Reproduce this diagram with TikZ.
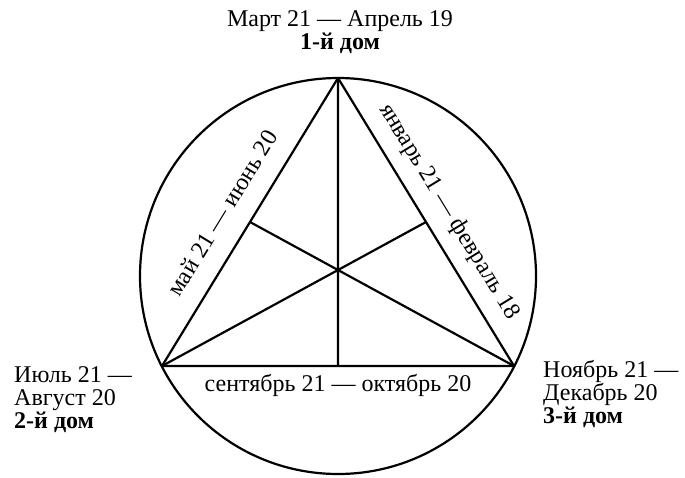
\documentclass[tikz,border=0pt]{standalone}
\usepackage{fontspec}
\setmainfont{Liberation Serif}
\usetikzlibrary{positioning}

\begin{document}
\begin{tikzpicture}[x=1pt,y=-1pt,
    edge/.style={line width=2.2pt,line join=round},
    lbl/.style={font=\fontsize{24}{23}\selectfont,inner sep=0pt}]
  \useasboundingbox (0,0) rectangle (685,477);
  % circle with the triangle of the houses
  \coordinate (O) at (338,276);
  \coordinate (top) at (338,78);
  \coordinate (left) at (162,366);
  \coordinate (right) at (514,366);
  \draw[edge] (O) circle[radius=198];
  \draw[edge] (top) -- (left) -- (right) -- cycle;
  \path (top) -- (left) coordinate[midway] (mtl)
        (top) -- (right) coordinate[midway] (mtr)
        (left) -- (right) coordinate[midway] (mlr);
  \draw[edge] (top) -- (mlr) (left) -- (mtr) (right) -- (mtl);
  % months along the sides
  \path (left) -- (top) node[lbl,pos=0.48,sloped,above,outer ysep=20pt] (may) {май 21 — июнь 20};
  \path (top) -- (right) node[lbl,pos=0.51,sloped,above,outer ysep=14pt] (jan) {январь 21 — февраль 18};
  \node[lbl,below=8pt of mlr] (sep) {сентябрь 21 — октябрь 20};
  % the three houses
  \node[lbl,anchor=north,align=center] (mar) at (340,10) {Март 21 — Апрель 19\\\textbf{1-й дом}};
  \node[lbl,anchor=north west,align=left] (jul) at (14,366) {Июль 21 —\\Август 20\\\textbf{2-й дом}};
  \node[lbl,anchor=north west,align=left] (nov) at (543,360) {Ноябрь 21 —\\Декабрь 20\\\textbf{3-й дом}};
\end{tikzpicture}
\end{document}
